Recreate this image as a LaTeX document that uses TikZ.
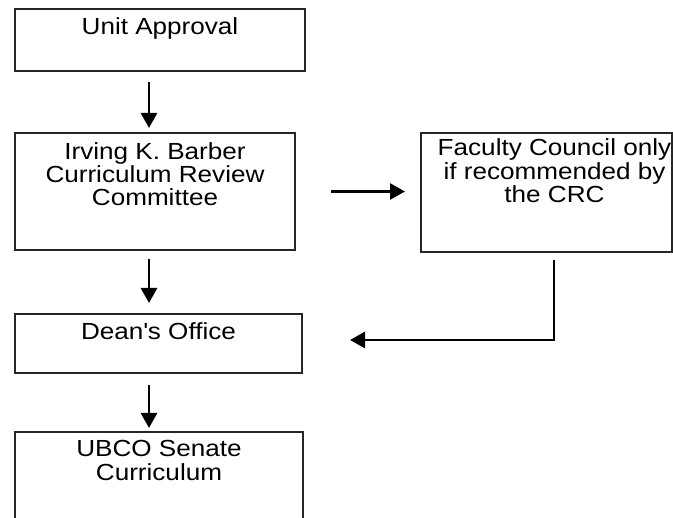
\documentclass[tikz,border=0pt]{standalone}
\usepackage{fontspec}
\setmainfont{Liberation Sans}[FakeStretch=1.12]
\usetikzlibrary{arrows.meta}

\newcommand{\stagetext}[4]{\parbox[t][#2pt][t]{#1pt}{\centering\vspace*{#3pt}#4\par}}

\begin{document}
\begin{tikzpicture}[x=1pt, y=-1pt]
% Define the node styles
\tikzstyle{stage} = [draw=black!85, line width=2pt, inner sep=0pt, anchor=north west, font=\fontsize{23.3}{23.3}\selectfont]
\tikzstyle{flow} = [line width=2.7pt, -{Triangle[length=15pt, width=16pt]}]

\useasboundingbox (0,0) rectangle (673,518);
\clip (0,0) rectangle (673,518);

% Define the nodes
\node[stage] (unit) at (14,8) {\stagetext{290}{62}{8.5}{Unit Approval}};
\node[stage] (crc) at (14,132) {\stagetext{280}{117}{9.5}{Irving K. Barber\\Curriculum Review\\Committee}};
\node[stage] (council) at (420,132) {\stagetext{251}{119}{6}{\leftskip=16pt plus 1fil Faculty Council only\\if recommended by\\the CRC}};
\node[stage] (dean) at (14,313) {\stagetext{287}{59}{8.5}{Dean\textquotesingle s Office}};
\node[stage] (senate) at (14,431) {\stagetext{288}{100}{8.5}{UBCO Senate\\Curriculum}};

% Define the transitions
\draw[flow] ([xshift=-11pt, yshift=-10pt]unit.south) -- ([xshift=-6pt, yshift=4pt]crc.north);
\draw[flow] ([xshift=-6pt, yshift=-8pt]crc.south) -- ([xshift=-9.5pt, yshift=10pt]dean.north);
\draw[flow] ([xshift=-9.5pt, yshift=-11pt]dean.south) -- ([xshift=-10pt, yshift=3pt]senate.north);
\draw[flow] ([xshift=35pt]crc.east) -- ([xshift=-15pt]crc.east -| council.west);
\draw[flow] ([xshift=7.5pt, yshift=-7pt]council.south) |- ([xshift=47pt, yshift=3.5pt]dean.east);

\end{tikzpicture}
\end{document}
